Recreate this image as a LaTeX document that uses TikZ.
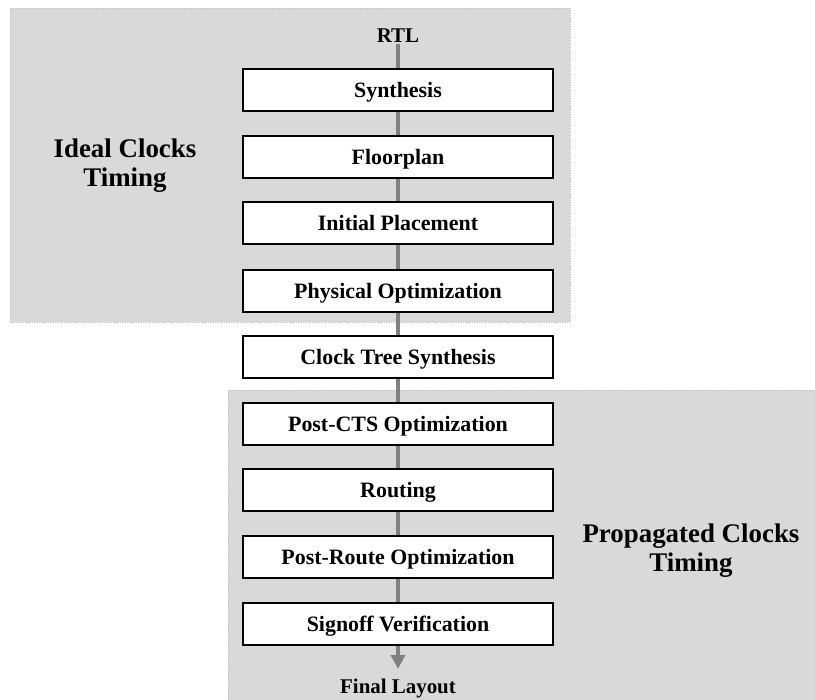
\documentclass[tikz,border=0pt]{standalone}
\usepackage{fontspec}
\setmainfont{Liberation Serif}
\usetikzlibrary{arrows.meta}
\definecolor{zonegray}{HTML}{D9D9D9}
\definecolor{zoneedge}{HTML}{C8C8C8}
\definecolor{flowgray}{HTML}{808080}
\begin{document}
\begin{tikzpicture}[x=1bp,y=-1bp,
  zone/.style={fill=zonegray,draw=zoneedge,densely dotted,line width=0.8bp},
  stage/.style={draw=black,fill=white,line width=1.6bp,minimum width=310bp,minimum height=42bp,
    inner sep=0pt,text height=15bp,text depth=0pt,font=\fontsize{22}{24}\selectfont\bfseries},
  endlabel/.style={inner sep=1pt,font=\fontsize{21}{23}\selectfont\bfseries},
  zonelabel/.style={align=center,inner sep=0pt,font=\fontsize{27}{29}\selectfont\bfseries},
  flow/.style={draw=flowgray,line width=4.5bp},
  flowarrow/.style={flow,-{Triangle[length=14bp,width=14bp]}}]
  \useasboundingbox (0,0) rectangle (815,700);
  % shaded timing zones
  \path[zone] (10,8) rectangle (570,322);
  \path[zone] (228,390) rectangle (816,701);
  % zone captions
  \node[zonelabel] (ideal) at (125,166) {Ideal Clocks\\Timing};
  \node[zonelabel] (prop) at (691,551) {Propagated Clocks\\Timing};
  % flow stages
  \node[endlabel] (rtl) at (398,36) {RTL};
  \node[stage] (s1) at (398,90) {Synthesis};
  \node[stage] (s2) at (398,157) {Floorplan};
  \node[stage] (s3) at (398,223) {Initial Placement};
  \node[stage] (s4) at (398,291) {Physical Optimization};
  \node[stage] (s5) at (398,357) {Clock Tree Synthesis};
  \node[stage] (s6) at (398,424) {Post-CTS Optimization};
  \node[stage] (s7) at (398,490) {Routing};
  \node[stage] (s8) at (398,557) {Post-Route Optimization};
  \node[stage] (s9) at (398,624) {Signoff Verification};
  \node[endlabel] (out) at (398,688) {Final Layout};
  \coordinate (tip) at (398,669);
  % connectors
  \draw[flow] (rtl.south) -- (s1.north);
  \draw[flow] (s1) -- (s2);
  \draw[flow] (s2) -- (s3);
  \draw[flow] (s3) -- (s4);
  \draw[flow] (s4) -- (s5);
  \draw[flow] (s5) -- (s6);
  \draw[flow] (s6) -- (s7);
  \draw[flow] (s7) -- (s8);
  \draw[flow] (s8) -- (s9);
  \draw[flowarrow] (s9.south) -- (tip);
\end{tikzpicture}
\end{document}
